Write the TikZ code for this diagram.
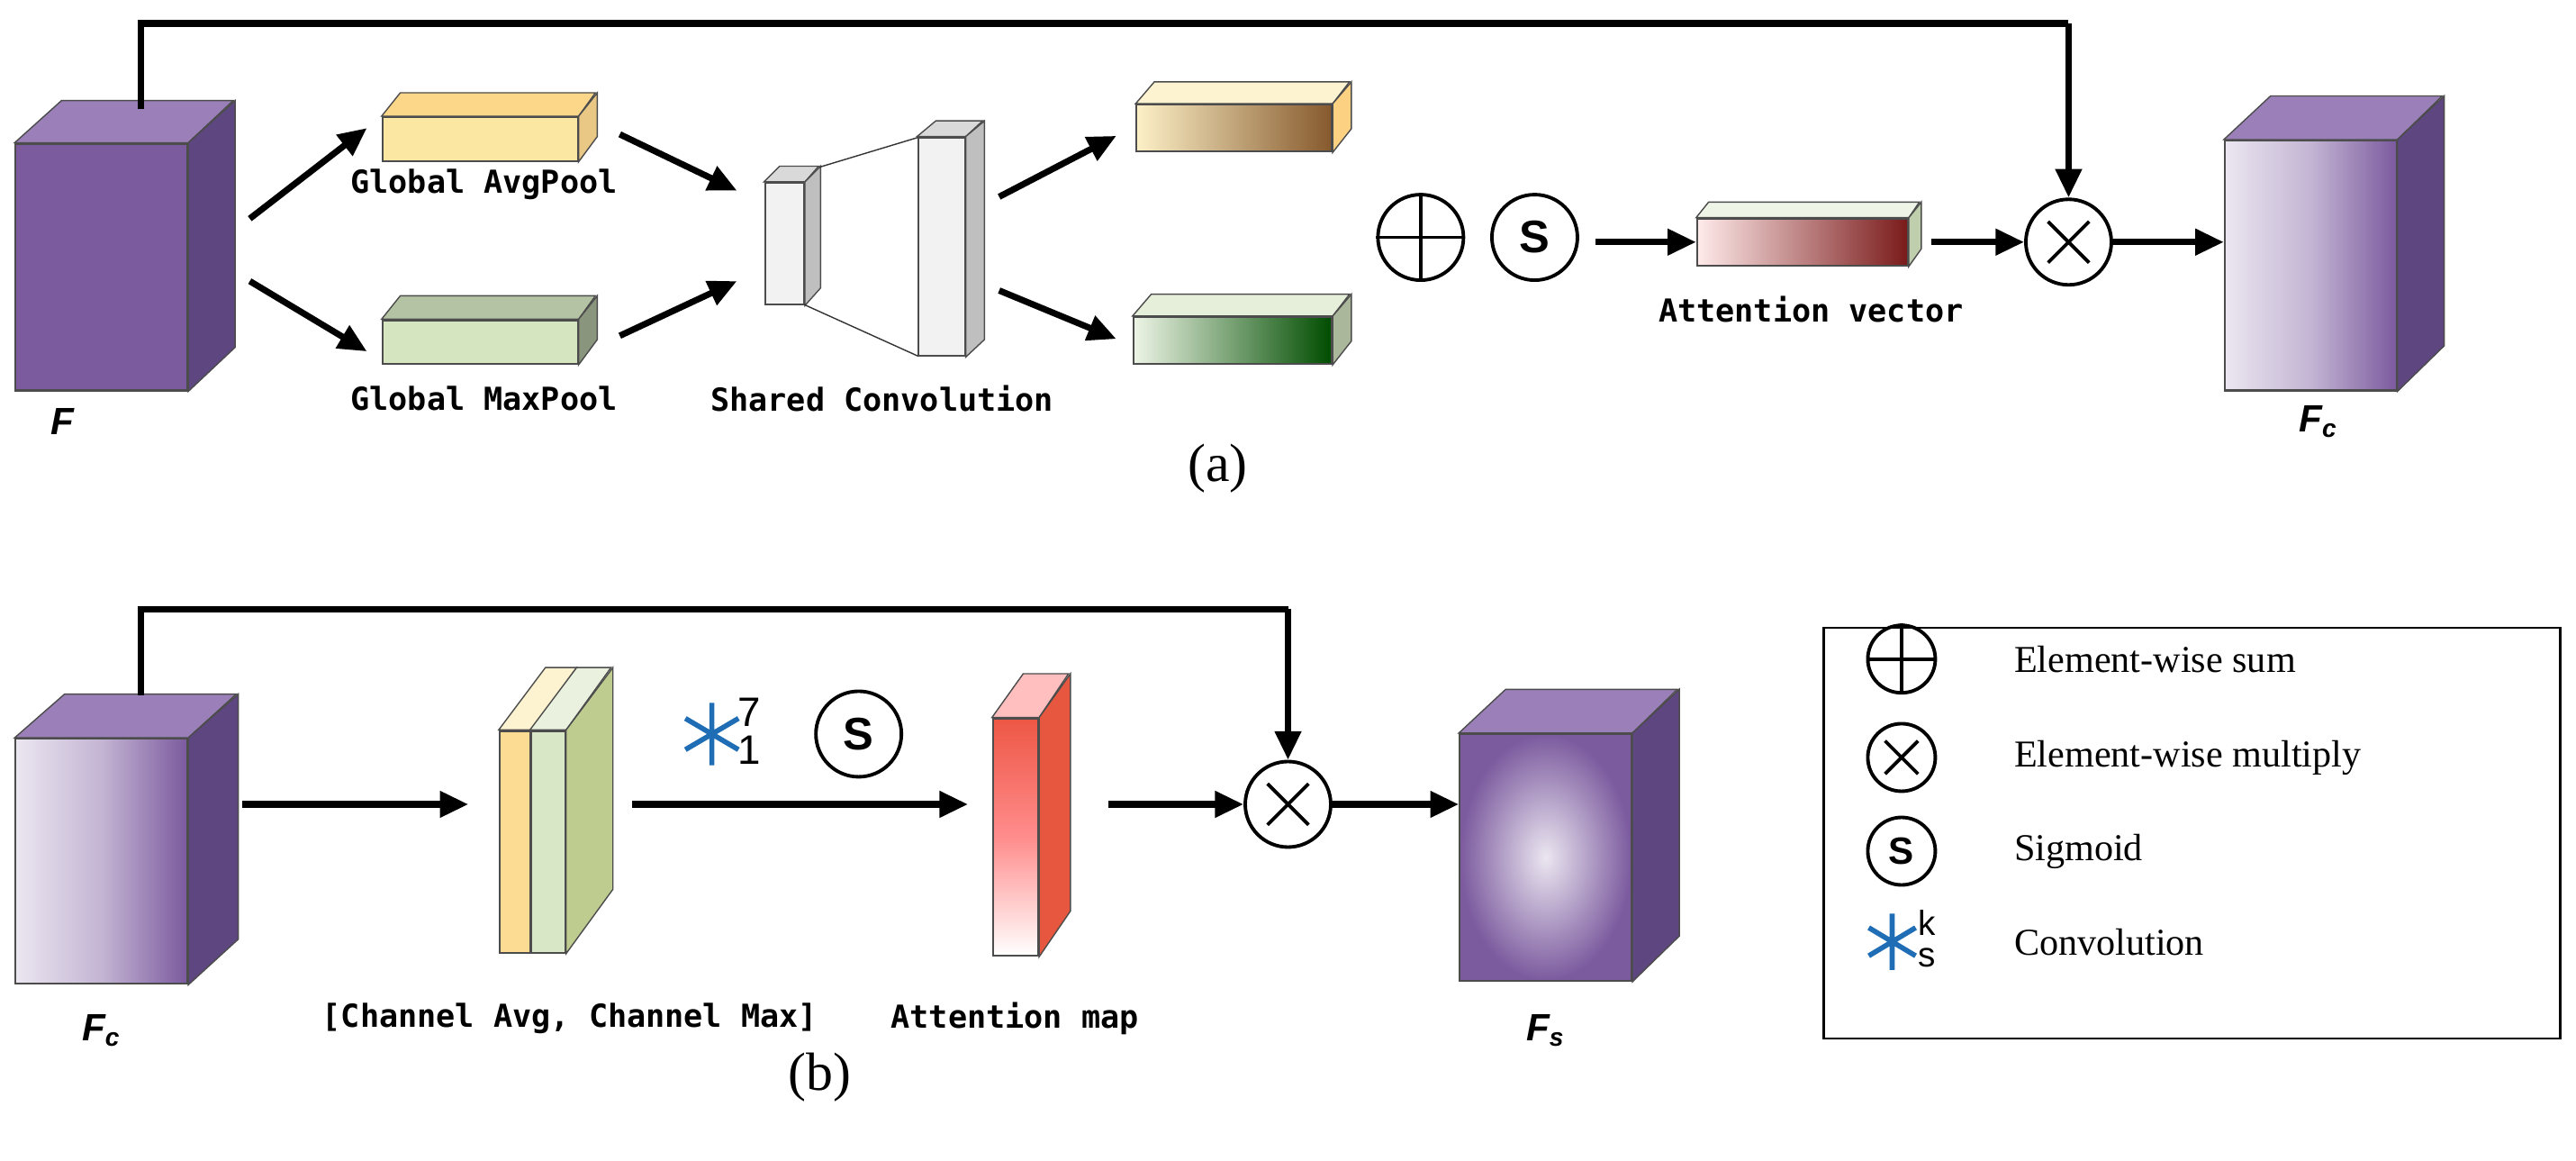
\documentclass[tikz,border=0pt]{standalone}
\usepackage{fontspec}
\setmainfont{Liberation Serif}
\newfontfamily\mono{DejaVu Sans Mono}
\newfontfamily\sansb{Liberation Sans}
\usetikzlibrary{fit,arrows.meta}
\definecolor{pur}{HTML}{7B5A9E}
\definecolor{purtop}{HTML}{9A7FB8}
\definecolor{purside}{HTML}{5E4680}
\definecolor{yel}{HTML}{FBE6A2}
\definecolor{grn}{HTML}{D4E5C0}
\definecolor{dred}{HTML}{7A1A1A}
\definecolor{gold}{HTML}{E8C040}
\definecolor{convblue}{HTML}{1F6DB5}
\begin{document}
\begin{tikzpicture}[x=0.1734mm,y=-0.1734mm,
  arr/.style={-{Triangle[length=9pt,width=8pt]},line width=2pt},
  box/.style={inner sep=0pt,draw=black!70,line width=0.6pt},
  lab/.style={font=\mono\bfseries\fontsize{10}{12}\selectfont},
  flab/.style={font=\sansb\bfseries\itshape\fontsize{12}{14}\selectfont},
  op/.style={circle,draw,line width=1.1pt,minimum size=9.5mm,inner sep=0pt},
  star/.style={convblue,line width=1.6pt},
  leg/.style={font=\fontsize{12}{14}\selectfont,anchor=west}]
\useasboundingbox (0,0) rectangle (1650,743);
% ---------- (a) ----------
\node[box,fit={(10,92)(120,250)},fill=pur] (F) {};
\fill[purtop,draw=black!70] (F.north west) -- ++(30,-27) -- ++(110,0) -- (F.north east) -- cycle;
\fill[purside,draw=black!70] (F.north east) -- ++(30,-27) -- ++(0,158) -- (F.south east) -- cycle;
\node[flab] (Fl) at (40,270) {F};

\node[box,fit={(245,75)(370,103)},fill=yel] (avg) {};
\fill[yel!85!orange,draw=black!70] (avg.north west) -- ++(12,-15) -- ++(125,0) -- (avg.north east) -- cycle;
\fill[yel!70!brown,draw=black!70] (avg.north east) -- ++(12,-15) -- ++(0,28) -- (avg.south east) -- cycle;
\node[lab] (avgl) at (310,118) {Global AvgPool};
\node[box,fit={(245,205)(370,233)},fill=grn] (max) {};
\fill[grn!85!black,draw=black!70] (max.north west) -- ++(12,-15) -- ++(125,0) -- (max.north east) -- cycle;
\fill[grn!65!black,draw=black!70] (max.north east) -- ++(12,-15) -- ++(0,28) -- (max.south east) -- cycle;
\node[lab] (maxl) at (310,255) {Global MaxPool};

\coordinate (a1) at (160,140); \coordinate (a2) at (235,82);
\coordinate (a3) at (160,180); \coordinate (a4) at (235,225);
\draw[arr] (a1) -- (a2); \draw[arr] (a3) -- (a4);

\node[box,fit={(490,117)(515,195)},fill=black!5] (c1) {};
\fill[black!15,draw=black!70] (c1.north west) -- ++(10,-10) -- ++(25,0) -- (c1.north east) -- cycle;
\fill[black!25,draw=black!70] (c1.north east) -- ++(10,-10) -- ++(0,78) -- (c1.south east) -- cycle;
\node[box,fit={(588,88)(618,228)},fill=black!5] (c2) {};
\fill[black!15,draw=black!70] (c2.north west) -- ++(12,-10) -- ++(30,0) -- (c2.north east) -- cycle;
\fill[black!25,draw=black!70] (c2.north east) -- ++(12,-10) -- ++(0,140) -- (c2.south east) -- cycle;
\draw[black!80] (525,107) -- (588,88) (515,195) -- (588,228);
\node[lab] (convl) at (565,255) {Shared Convolution};
\coordinate (b1) at (397,86); \coordinate (b2) at (472,122);
\coordinate (b3) at (397,215); \coordinate (b4) at (472,180);
\draw[arr] (b1) -- (b2); \draw[arr] (b3) -- (b4);
\coordinate (d1) at (640,126); \coordinate (d2) at (715,87);
\coordinate (d3) at (640,186); \coordinate (d4) at (715,217);
\draw[arr] (d1) -- (d2); \draw[arr] (d3) -- (d4);

\node[box,fit={(728,67)(853,97)},left color=yel!60,middle color=gold,right color=brown!70!black] (oy) {};
\fill[yel!50,draw=black!70] (oy.north west) -- ++(12,-14) -- ++(125,0) -- (oy.north east) -- cycle;
\fill[yel!80!orange,draw=black!70] (oy.north east) -- ++(12,-14) -- ++(0,30) -- (oy.south east) -- cycle;
\node[box,fit={(726,203)(853,233)},left color=grn!40,right color=green!30!black] (og) {};
\fill[grn!60,draw=black!70] (og.north west) -- ++(12,-14) -- ++(127,0) -- (og.north east) -- cycle;
\fill[grn!80!black,draw=black!70] (og.north east) -- ++(12,-14) -- ++(0,30) -- (og.south east) -- cycle;

\node[op] (sum) at (910,152) {};
\draw[line width=1.1pt] (sum.north) -- (sum.south) (sum.west) -- (sum.east);
\node[op,font=\sansb\bfseries\Large] (sg) at (983,152) {S};
\coordinate (e1) at (1022,155);
\node[box,fit={(1087,140)(1222,170)},left color=red!8,right color=dred] (att) {};
\fill[grn!40,draw=black!70] (att.north west) -- ++(8,-10) -- ++(135,0) -- (att.north east) -- cycle;
\fill[grn!90!black,draw=black!70] (att.north east) -- ++(8,-10) -- ++(0,30) -- (att.south east) -- cycle;
\node[lab] (attl) at (1160,198) {Attention vector};
\draw[arr] (e1) -- (e1 -| att.west);
\node[op] (mul) at (1325,155) {};
\draw[line width=1.1pt] ([shift={(7,7)}]mul.north west) -- ([shift={(-7,-7)}]mul.south east)
  ([shift={(-7,7)}]mul.north east) -- ([shift={(7,-7)}]mul.south west);
\coordinate (e2) at (1237,155);
\draw[arr] (e2) -- (mul.west);
\node[box,fit={(1425,90)(1535,250)},left color=white!85!pur,right color=pur,middle color=pur!45] (Fc) {};
\fill[purtop,draw=black!70] (Fc.north west) -- ++(30,-28) -- ++(110,0) -- (Fc.north east) -- cycle;
\fill[purside,draw=black!70] (Fc.north east) -- ++(30,-28) -- ++(0,160) -- (Fc.south east) -- cycle;
\node[flab] (Fcl) at (1485,270) {F\textsubscript{c}};
\draw[arr] (mul.east) -- (mul.east -| Fc.west);
\coordinate (s0) at (90,70); \coordinate (s1) at (90,15); \coordinate (s2) at (1325,15);
\draw[line width=2pt] (s0) -- (s1) -- (s2);
\draw[arr] (s2) -- (mul.north);
\node[font=\fontsize{17}{20}\selectfont] (acap) at (780,300) {(a)};
% ---------- (b) ----------
\node[box,fit={(10,473)(120,630)},left color=white!85!pur,right color=pur,middle color=pur!45] (Fc2) {};
\fill[purtop,draw=black!70] (Fc2.north west) -- ++(32,-28) -- ++(110,0) -- (Fc2.north east) -- cycle;
\fill[purside,draw=black!70] (Fc2.north east) -- ++(32,-28) -- ++(0,157) -- (Fc2.south east) -- cycle;
\node[flab] (Fc2l) at (65,660) {F\textsubscript{c}};

\node[box,fit={(320,468)(340,610)},fill=yel!90!orange] (chy) {};
\node[box,fit={(340,468)(362,610)},fill=grn!90!white] (chw) {};
\fill[yel!50,draw=black!70] (chy.north west) -- ++(30,-40) -- ++(20,0) -- (chy.north east) -- cycle;
\fill[grn!50,draw=black!70] (chw.north west) -- ++(30,-40) -- ++(22,0) -- (chw.north east) -- cycle;
\fill[grn!75!olive,draw=black!70] (chw.north east) -- ++(30,-40) -- ++(0,142) -- (chw.south east) -- cycle;
\node[lab] (chl) at (365,652) {[Channel Avg, Channel Max]};
\coordinate (f1) at (155,515); \coordinate (f2) at (300,515);
\draw[arr] (f1) -- (f2);
\coordinate (f3) at (405,515); \coordinate (f4) at (620,515);
\draw[arr] (f3) -- (f4);
\coordinate (cv) at (456,470);
\draw[star] ([shift={(0,-20)}]cv) -- ([shift={(0,20)}]cv)
  ([shift={(-17,-10)}]cv) -- ([shift={(17,10)}]cv)
  ([shift={(-17,10)}]cv) -- ([shift={(17,-10)}]cv);
\node[font=\sansb\fontsize{13}{13}\selectfont,anchor=west,inner sep=0] (cv7) at (472,456) {7};
\node[font=\sansb\fontsize{13}{13}\selectfont,anchor=west,inner sep=0] (cv1) at (472,480) {1};
\node[op,font=\sansb\bfseries\Large] (sg2) at (550,470) {S};

\node[box,fit={(636,460)(665,612)},top color=red!65!brown!80,bottom color=white,middle color=red!45] (am) {};
\fill[red!25,draw=black!70] (am.north west) -- ++(20,-28) -- ++(29,0) -- (am.north east) -- cycle;
\fill[red!55!brown!85,draw=black!70] (am.north east) -- ++(20,-28) -- ++(0,152) -- (am.south east) -- cycle;
\node[lab] (aml) at (650,652) {Attention map};

\node[op] (mul2) at (825,515) {};
\draw[line width=1.1pt] ([shift={(7,7)}]mul2.north west) -- ([shift={(-7,-7)}]mul2.south east)
  ([shift={(-7,7)}]mul2.north east) -- ([shift={(7,-7)}]mul2.south west);
\coordinate (g1) at (710,515);
\draw[arr] (g1) -- (mul2.west);
\node[box,fit={(935,470)(1045,628)},inner color=white!85!pur,outer color=pur] (Fs) {};
\fill[purtop,draw=black!70] (Fs.north west) -- ++(30,-28) -- ++(110,0) -- (Fs.north east) -- cycle;
\fill[purside,draw=black!70] (Fs.north east) -- ++(30,-28) -- ++(0,158) -- (Fs.south east) -- cycle;
\node[flab] (Fsl) at (990,660) {F\textsubscript{s}};
\draw[arr] (mul2.east) -- (mul2.east -| Fs.west);
\coordinate (t0) at (90,445); \coordinate (t1) at (90,390); \coordinate (t2) at (825,390);
\draw[line width=2pt] (t0) -- (t1) -- (t2);
\draw[arr] (t2) -- (mul2.north);
\node[font=\fontsize{17}{20}\selectfont] (bcap) at (525,690) {(b)};
% ---------- legend ----------
\node[draw,line width=0.8pt,fit={(1168,402)(1640,665)},inner sep=0] (lg) {};
\node[op,minimum size=7.5mm] (l1) at (1218,422) {};
\draw[line width=1.1pt] (l1.north) -- (l1.south) (l1.west) -- (l1.east);
\node[leg] (l1t) at (1283,422) {Element-wise sum};
\node[op,minimum size=7.5mm] (l2) at (1218,485) {};
\draw[line width=1.1pt] ([shift={(5.5,5.5)}]l2.north west) -- ([shift={(-5.5,-5.5)}]l2.south east)
  ([shift={(-5.5,5.5)}]l2.north east) -- ([shift={(5.5,-5.5)}]l2.south west);
\node[leg] (l2t) at (1283,485) {Element-wise multiply};
\node[op,minimum size=7.5mm,font=\sansb\bfseries\large] (l3) at (1218,545) {S};
\node[leg] (l3t) at (1283,545) {Sigmoid};
\coordinate (l4) at (1212,603);
\draw[star] ([shift={(0,-18)}]l4) -- ([shift={(0,18)}]l4)
  ([shift={(-15,-9)}]l4) -- ([shift={(15,9)}]l4)
  ([shift={(-15,9)}]l4) -- ([shift={(15,-9)}]l4);
\node[font=\sansb\fontsize{11}{11}\selectfont,anchor=west,inner sep=0] (l4k) at (1228,591) {k};
\node[font=\sansb\fontsize{11}{11}\selectfont,anchor=west,inner sep=0] (l4s) at (1228,613) {s};
\node[leg] (l4t) at (1283,603) {Convolution};
\end{tikzpicture}
\end{document}
